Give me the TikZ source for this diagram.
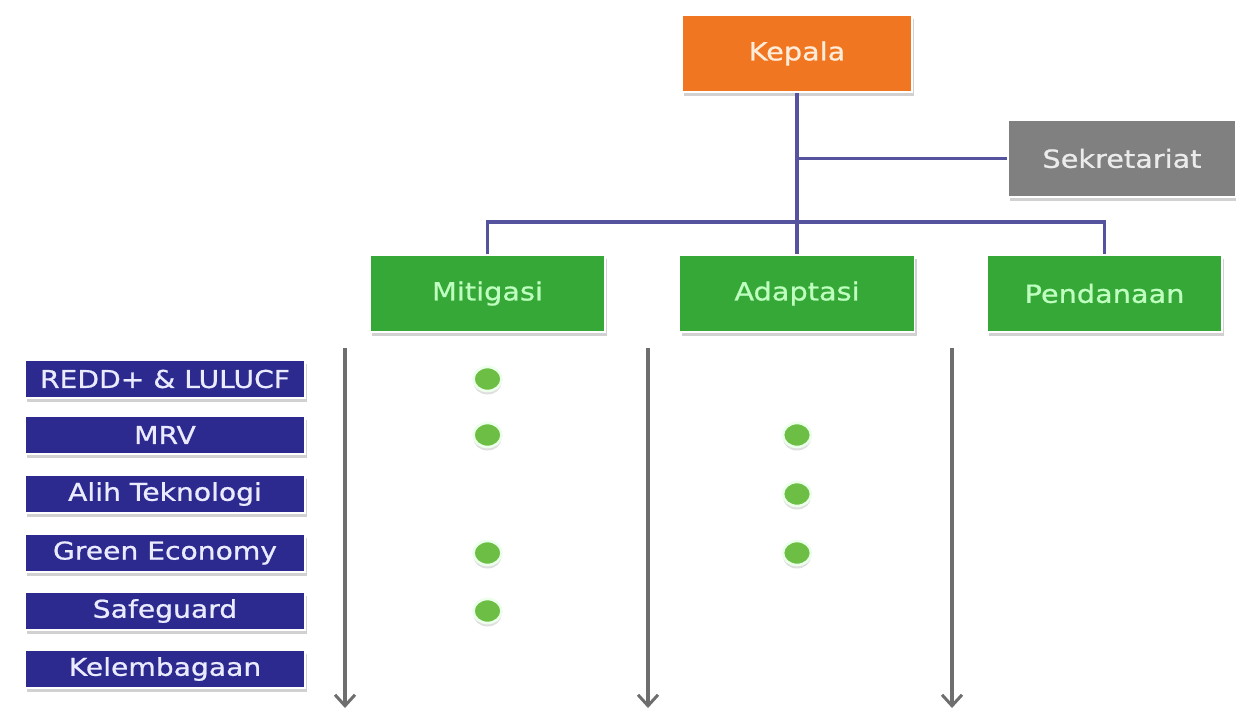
\documentclass[tikz,border=0pt]{standalone}
\usepackage{fontspec}
\setmainfont[FakeStretch=1.15,FakeBold=0.8]{DejaVu Sans}
\usetikzlibrary{shadows,arrows.meta,shapes.geometric}

\definecolor{orangebox}{HTML}{F07622}
\definecolor{greybox}{HTML}{808080}
\definecolor{greenbox}{HTML}{36A838}
\definecolor{navybox}{HTML}{2C2A8E}
\definecolor{linkline}{HTML}{55529E}
\definecolor{axisline}{HTML}{6E6E6E}
\definecolor{dotgreen}{HTML}{6DBE45}

\tikzset{
  unitbox/.style={draw=white, line width=1.5pt, inner sep=0pt,
    drop shadow={shadow xshift=2pt, shadow yshift=-4pt, opacity=0.3, fill=black!60}},
  bigbox/.style={unitbox, minimum width=230pt, minimum height=77pt,
    font=\fontsize{25}{29}\selectfont},
  headbox/.style={bigbox, fill=orangebox, text=orange!15},
  secbox/.style={bigbox, fill=greybox, text=white!92!black},
  fieldbox/.style={bigbox, minimum width=235pt, fill=greenbox, text=green!25!white},
  topicbox/.style={unitbox, fill=navybox, text=blue!8!white,
    minimum width=280pt, minimum height=38pt, font=\fontsize{24.5}{28}\selectfont},
  conn/.style={draw=linkline, line width=3.4pt},
  axis/.style={draw=axisline, line width=3.6pt,
    -{Straight Barb[length=11pt,width=20pt,line width=3pt]}},
  mark dot/.style={ellipse, fill=dotgreen, minimum width=28pt, minimum height=24pt,
    inner sep=0pt, draw=green!8!white, line width=2.6pt,
    drop shadow={shadow xshift=0pt, shadow yshift=-3.5pt, opacity=0.25, fill=black!50}}
}

\begin{document}
\begin{tikzpicture}[x=1pt, y=-1pt]
  \useasboundingbox (0,0) rectangle (1236,713);

  % organisation boxes
  \node[headbox] (kep) at (797,53.5) {Kepala};
  \node[secbox, minimum width=228pt] (sek) at (1122,158.5) {Sekretariat};
  \node[fieldbox] (mit) at (487.5,293.5) {Mitigasi};
  \node[fieldbox] (ada) at (797,293.5) {Adaptasi};
  \node[fieldbox] (pen) at (1104.5,293.5) {Pendanaan};

  % reporting lines
  \coordinate (bus) at (797,222);
  \draw[conn] (kep.south) -- (ada.north);
  \draw[conn] (kep.south |- sek.west) -- (sek.west);
  \draw[conn] (mit.north) |- (bus) -| (pen.north);

  % topic boxes
  \node[topicbox] (t1) at (165,379) {REDD+ \& LULUCF};
  \node[topicbox] (t2) at (165,435) {MRV};
  \node[topicbox] (t3) at (165,494) {Alih Teknologi};
  \node[topicbox] (t4) at (165,553) {Green Economy};
  \node[topicbox] (t5) at (165,611) {Safeguard};
  \node[topicbox] (t6) at (165,669) {Kelembagaan};

  % downward axes
  \coordinate (a1s) at (345,348); \coordinate (a1e) at (345,708);
  \coordinate (a2s) at (648,348); \coordinate (a2e) at (648,708);
  \coordinate (a3s) at (952,348); \coordinate (a3e) at (952,708);
  \draw[axis] (a1s) -- (a1e);
  \draw[axis] (a2s) -- (a2e);
  \draw[axis] (a3s) -- (a3e);

  % markers
  \node[mark dot] (m1) at (mit |- t1) {};
  \node[mark dot] (m2) at (mit |- t2) {};
  \node[mark dot] (m4) at (mit |- t4) {};
  \node[mark dot] (m5) at (mit |- t5) {};
  \node[mark dot] (d2) at (ada |- t2) {};
  \node[mark dot] (d3) at (ada |- t3) {};
  \node[mark dot] (d4) at (ada |- t4) {};
\end{tikzpicture}
\end{document}
